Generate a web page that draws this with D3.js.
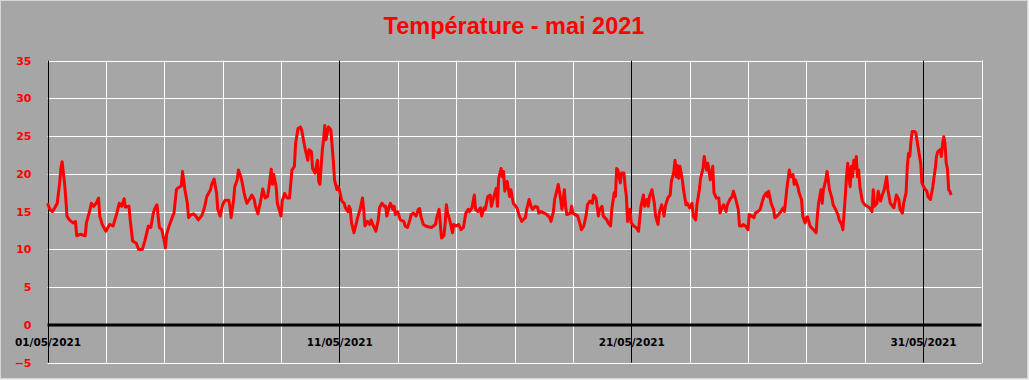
<!DOCTYPE html>
<meta charset="utf-8">
<style>
    body { margin: 0; background: #ececec; }
    svg { display: block; }
    .ylab text { font-family: "DejaVu Sans", sans-serif; font-weight: bold; font-size: 11px; fill: #ff0000; }
    .xlab text { font-family: "DejaVu Sans", sans-serif; font-weight: bold; font-size: 10.5px; fill: #000; }
</style>
<script src="https://d3js.org/d3.v7.min.js"></script>
<svg width="1029" height="380"></svg>
<script>

    // hourly-ish readings, [hours since 01/05/2021 00:00, °C]
    var decade1 = [
        [0,16.1],[2,15.3],[4,15.0],[6,15.5],[8,16.1],[10,18.8],[11,20.7],[12,21.6],[14,18.8],[15,16.8],[16,14.4],[18,13.9],
        [21,13.5],[23,13.7],[24,11.8],[27,12.0],[31,11.8],[32,13.5],[35,15.3],[36,16.1],[38,15.7],[40,16.1],[42,16.8],[43,14.4],
        [45,13.3],[48,12.4],[51,13.3],[54,13.1],[57,14.8],[59,16.1],[61,15.7],[63,16.7],[64,15.6],[67,15.7],[68,13.9],[70,11.1],
        [73,10.8],[75,10.0],[78,10.0],[80,11.1],[83,13.1],[85,12.9],[87,14.8],[88,15.3],[90,15.9],[92,12.9],[94,12.6],[96,11.1],
        [97,10.2],[98,12.0],[100,13.1],[103,14.4],[104,14.8],[106,17.9],[107,18.1],[109,18.3],[110,18.4],[111,20.3],[113,17.9],
        [115,16.1],[116,14.2],[118,14.6],[120,14.7],[122,14.4],[124,13.9],[127,14.5],[129,15.5],[131,17.0],[134,17.9],[135,18.6],
        [137,19.3],[139,17.5],[140,15.3],[142,14.4],[144,15.9],[146,16.5],[149,16.5],[150,15.7],[151,14.2],[153,16.5],[154,18.3],
        [156,19.2],[157,20.5],[159,19.6],[160,18.9],[162,17.2],[164,16.1],[166,16.6],[168,17.2],[170,16.6],[171,15.7],[173,14.7],
        [175,16.2],[177,18.0],[179,16.8],[181,17.0],[182,18.1],[184,20.6],[185,18.6],[186,19.9],[188,18.3],[189,16.1],[192,14.4],
        [193,16.4],[195,17.4],[197,16.8],[199,16.8],[201,20.5],[202,20.7],[203,21.0],[204,24.0],[206,26.0],[208,26.2],[209,25.8],
        [211,24.0],[212,23.2],[214,21.8],[215,23.2],[217,22.9],[218,20.7],[220,20.1],[222,21.8],[223,19.0],[224,18.6],[226,23.2],
        [227,24.5],[228,26.4],[229,24.5],[231,26.2],[233,25.8],[235,21.8],[236,19.2],[238,17.9],[239,18.3]
    ];
    var decade2 = [
        [240,17.9],[242,16.4],[244,16.1],[245,15.5],[247,15.0],[248,15.7],[249,15.3],[250,13.5],[252,12.2],[254,13.5],[255,14.2],
        [257,15.3],[259,16.8],[260,15.3],[261,13.1],[263,13.7],[265,13.3],[266,13.9],[268,13.1],[270,12.4],[272,13.9],[273,15.5],
        [275,16.1],[277,15.7],[278,15.7],[279,14.4],[281,15.7],[282,16.1],[284,15.3],[285,15.7],[286,14.6],[288,15.0],[290,13.9],
        [293,13.7],[294,13.1],[296,12.9],[298,13.9],[299,14.6],[301,14.8],[303,14.4],[305,15.3],[306,15.4],[307,14.4],[309,13.3],
        [311,13.1],[313,13.0],[316,12.9],[319,13.3],[320,14.2],[322,15.3],[323,13.3],[324,11.5],[326,11.8],[327,13.5],[328,15.9],
        [329,14.8],[331,13.7],[333,12.2],[334,13.3],[336,13.1],[338,13.3],[340,12.6],[342,12.9],[344,14.8],[346,15.3],[347,15.0],
        [349,15.5],[351,17.2],[352,15.3],[354,15.0],[356,15.5],[357,14.4],[359,15.5],[360,15.3],[362,17.0],[364,17.2],[365,15.7],
        [367,17.0],[369,18.1],[370,15.7],[371,19.4],[373,20.7],[374,19.6],[375,20.3],[376,17.7],[378,19.0],[380,17.0],[381,17.9],
        [383,16.1],[385,15.7],[386,15.5],[388,14.4],[390,13.7],[391,13.9],[393,14.2],[394,15.3],[396,16.6],[398,15.5],[399,15.3],
        [401,15.7],[403,15.6],[404,14.8],[406,15.0],[408,14.8],[410,14.7],[413,14.2],[414,13.7],[416,15.0],[417,16.6],[419,17.9],
        [420,18.6],[422,16.6],[423,15.3],[425,17.9],[426,15.7],[427,14.6],[430,14.8],[431,15.7],[432,14.8],[434,14.6],[436,14.4],
        [438,13.3],[439,12.6],[441,13.1],[443,14.6],[444,15.9],[446,16.4],[448,16.1],[449,17.2],[451,16.8],[453,14.4],[454,15.3],
        [456,15.7],[457,14.4],[460,13.9],[461,13.5],[463,13.1],[464,15.3],[466,17.5],[467,17.0],[468,20.7],[469,20.5],[471,18.8],
        [472,20.1],[474,20.1],[475,18.3],[476,17.0],[477,13.7],[479,15.3]
    ];
    var decade3 = [
        [480,13.5],[482,13.1],[484,12.9],[486,12.4],[488,15.7],[490,17.2],[491,15.7],[493,16.6],[494,15.7],[495,17.0],[497,17.9],
        [499,16.1],[500,14.4],[502,13.3],[503,14.8],[505,15.9],[507,14.4],[508,15.7],[510,16.8],[512,17.2],[513,19.0],[515,20.3],
        [516,21.8],[517,19.6],[518,21.1],[519,19.4],[520,21.0],[522,19.2],[523,17.9],[525,15.9],[526,16.1],[528,15.5],[530,16.1],
        [531,14.4],[533,13.9],[534,15.9],[536,17.9],[537,19.4],[539,20.7],[540,22.3],[542,20.5],[543,21.4],[545,19.2],[547,21.0],
        [548,17.5],[550,16.8],[552,16.8],[553,14.8],[554,15.3],[556,15.9],[558,15.0],[559,15.9],[561,16.6],[563,17.0],[564,17.7],
        [566,16.6],[568,15.3],[569,13.1],[571,13.1],[572,13.3],[574,13.1],[576,12.6],[577,14.6],[579,14.4],[581,14.2],[582,14.8],
        [584,15.0],[586,15.3],[587,15.9],[589,17.0],[591,17.5],[592,17.0],[593,17.7],[595,16.1],[597,15.3],[598,14.2],[600,14.4],
        [602,14.8],[603,15.0],[605,15.5],[606,15.0],[608,18.1],[610,20.5],[611,19.6],[613,19.9],[614,18.6],[615,19.2],[617,18.3],
        [618,17.5],[620,16.6],[621,14.4],[623,13.5],[624,14.2],[625,14.3],[627,13.1],[628,12.9],[630,12.6],[632,12.2],[633,14.4],
        [634,16.1],[636,17.9],[637,16.1],[638,17.9],[640,19.2],[641,20.3],[642,19.2],[643,17.9],[645,16.8],[646,15.9],[648,15.3],
        [650,14.6],[651,13.9],[653,13.3],[654,12.6],[655,14.8],[656,17.0],[657,19.6],[658,21.4],[660,18.3],[661,21.0],[662,19.6],
        [663,21.8],[664,20.7],[665,22.3],[666,19.6],[667,20.5],[668,18.3],[670,16.4],[672,15.9],[674,15.7],[676,15.5],[678,15.0],
        [679,17.9],[680,15.7],[682,16.1],[683,17.7],[685,16.4],[686,17.0],[688,17.9],[690,19.6],[691,17.9],[693,16.1],[695,15.7],
        [696,15.5],[698,17.2],[700,16.6],[701,15.3],[703,14.8],[704,16.1],[706,17.5],[707,21.0],[708,22.7],[709,22.3],[710,24.3],
        [711,25.6],[713,25.6],[714,25.4],[716,23.4],[718,21.4],[719,18.8],[721,18.1],[723,17.7],[724,17.0],[726,16.6],[728,18.3],
        [729,19.6],[730,20.7],[731,22.3],[732,22.9],[734,23.2],[735,22.3],[736,24.0],[737,24.9],[738,24.0],[739,21.4],[740,20.7],
        [741,17.9],[742,17.7],[743,17.2]
    ];

    var yTicks = [-5, 0, 5, 10, 15, 20, 25, 30, 35];
    var dateTicks = [0, 240, 480, 720];
    var dateLabels = ["01/05/2021", "11/05/2021", "21/05/2021", "31/05/2021"];
    var title = "Température - mai 2021";

    var svg = d3.select("svg"),
        width = +svg.attr("width"),
        height = +svg.attr("height");

    var x = d3.scaleLinear().domain([0, 768]).range([47.5, 981.5]);
    var y = d3.scaleLinear().domain([-5, 35]).range([362.7, 60.5]);

    svg.append("rect")
        .attr("x", 0.5).attr("y", 0.5)
        .attr("width", width - 2).attr("height", height - 2)
        .attr("fill", "#a6a6a6")
        .attr("stroke", "#d6d6d6");

    svg.append("text")
        .attr("x", 514).attr("y", 34)
        .attr("text-anchor", "middle")
        .style("font-family", "'Liberation Sans', Arial, sans-serif")
        .style("font-weight", "bold")
        .style("font-size", "23.5px")
        .attr("fill", "#ff0000")
        .text(title);

    // white grid
    var grid = svg.append("g").attr("stroke", "#ffffff").attr("stroke-width", 1);
    grid.selectAll(".h").data(yTicks).enter().append("line")
        .attr("x1", x(0)).attr("x2", x(768))
        .attr("y1", function (d) { return Math.round(y(d)) + 0.5; })
        .attr("y2", function (d) { return Math.round(y(d)) + 0.5; });
    grid.selectAll(".v").data(d3.range(0, 769, 48)).enter().append("line")
        .attr("x1", function (d) { return Math.round(x(d)) + 0.5; })
        .attr("x2", function (d) { return Math.round(x(d)) + 0.5; })
        .attr("y1", y(35)).attr("y2", y(-5));

    // black day-10 lines
    svg.append("g").selectAll("line").data(dateTicks).enter().append("line")
        .attr("stroke", "#000")
        .attr("x1", function (d) { return Math.round(x(d)) + 0.5; })
        .attr("x2", function (d) { return Math.round(x(d)) + 0.5; })
        .attr("y1", y(35)).attr("y2", y(-5));

    svg.append("line")
        .attr("stroke", "#000").attr("stroke-width", 3)
        .attr("x1", x(0)).attr("x2", x(768))
        .attr("y1", y(0)).attr("y2", y(0));

    var yAxis = svg.append("g")
        .attr("class", "ylab")
        .attr("transform", "translate(" + x(0) + ",0)")
        .call(d3.axisLeft(y).tickValues(yTicks).tickSize(0).tickPadding(16));
    yAxis.select(".domain").remove();

    var xAxis = svg.append("g")
        .attr("class", "xlab")
        .attr("transform", "translate(0," + y(0) + ")")
        .call(d3.axisBottom(x).tickValues(dateTicks).tickSize(0).tickPadding(14)
            .tickFormat(function (d, i) { return dateLabels[i]; }));
    xAxis.select(".domain").remove();

    var temps = decade1.concat(decade2, decade3);

    var line = d3.line()
        .x(function (d) { return x(d[0]); })
        .y(function (d) { return y(d[1]); });

    svg.append("path")
        .datum(temps)
        .attr("fill", "none")
        .attr("stroke", "#ff0000")
        .attr("stroke-width", 3)
        .attr("stroke-linejoin", "round")
        .attr("d", line);

</script>
